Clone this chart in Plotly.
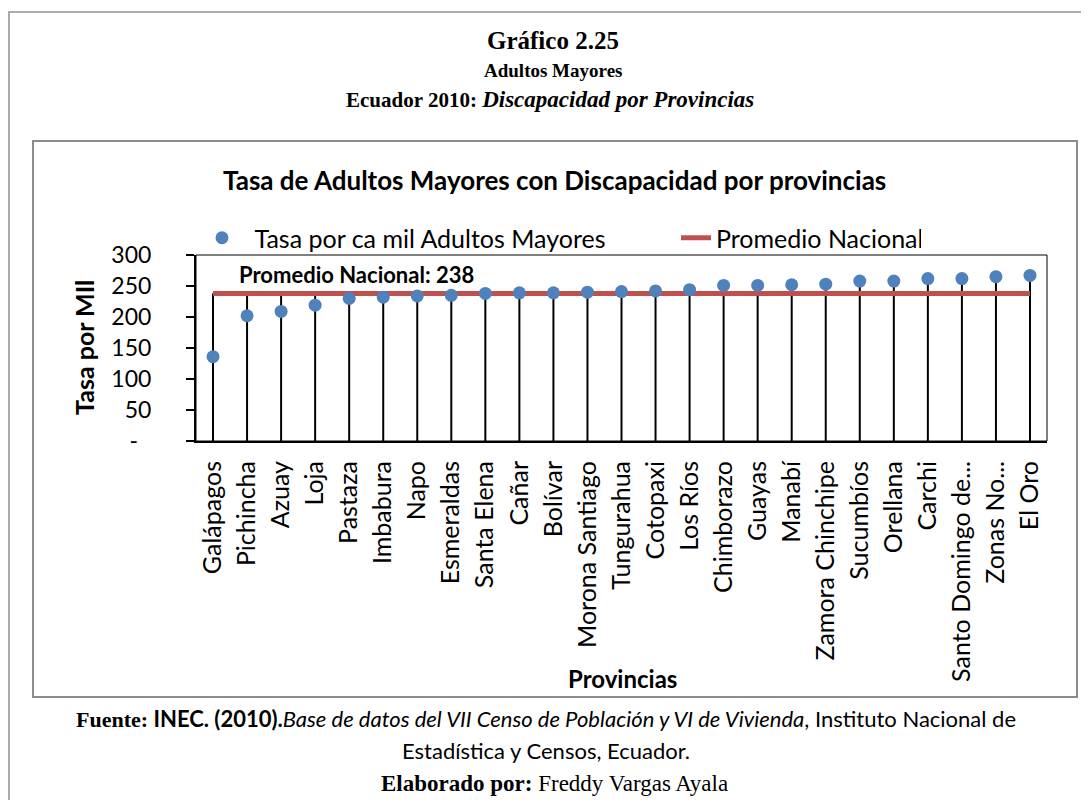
import plotly.graph_objects as go

# Datos: tasa por cada mil adultos mayores con discapacidad
provincias = ['Galápagos', 'Pichincha', 'Azuay', 'Loja', 'Pastaza', 'Imbabura',
              'Napo', 'Esmeraldas', 'Santa Elena', 'Cañar', 'Bolívar',
              'Morona Santiago', 'Tungurahua', 'Cotopaxi', 'Los Ríos',
              'Chimborazo', 'Guayas', 'Manabí', 'Zamora Chinchipe', 'Sucumbíos',
              'Orellana', 'Carchi', 'Santo Domingo de...', 'Zonas No...', 'El Oro']
tasa = [136, 202, 209, 219, 230, 232, 234, 235, 238, 239, 239, 240, 241, 242,
        244, 251, 251, 252, 253, 258, 258, 262, 262, 265, 267]
promedio = 238

y_ticks = [0, 50, 100, 150, 200, 250, 300]
y_labels = ['-\u2007', '50', '100', '150', '200', '250', '300']

# la pagina html tiene 8px de margen en el body
OFF = 8
W, H = 1089 - OFF, 800 - OFF
ML, MR, MT, MB = 188, 42, 247, 359
SANS = 'Lato'
SERIF = 'Liberation Serif'
AZUL = '#4F81BD'
ROJO = '#C0504D'


# pixeles de la ventana -> coordenadas paper (area de trazado)
def px(x):
    return (x - OFF - ML) / (W - ML - MR)


def py(y):
    return (H - MB - (y - OFF)) / (H - MT - MB)


# lineas verticales (drop lines) desde el eje hasta el valor mas alto
xs, ys = [], []
for p, v in zip(provincias, tasa):
    xs += [p, p, None]
    ys += [0, max(v, promedio), None]

fig = go.Figure()
fig.add_trace(go.Scatter(x=xs, y=ys, mode='lines', line=dict(color='black', width=2),
                         showlegend=False, hoverinfo='skip'))
fig.add_trace(go.Scatter(x=provincias, y=[promedio] * len(provincias), mode='lines',
                         name='Promedio Nacional', line=dict(color=ROJO, width=5),
                         legendrank=2, legendwidth=200))
fig.add_trace(go.Scatter(x=provincias, y=tasa, mode='markers',
                         name='\u2002Tasa por ca mil Adultos Mayores',
                         marker=dict(color=AZUL, size=13), legendrank=1, legendwidth=429))

anns = [
    dict(text='<b>Gráfico 2.25</b>', x=px(553), y=py(40), font=dict(family=SERIF, size=25)),
    dict(text='<b>Adultos Mayores</b>', x=px(553), y=py(70), font=dict(family=SERIF, size=19)),
    dict(text='<b>Ecuador 2010: </b><b><i><span style="font-size:23px">Discapacidad por Provincias</span></i></b>',
         x=px(550), y=py(99), font=dict(family=SERIF, size=21)),
    dict(text='<b>Tasa de Adultos Mayores con Discapacidad por provincias</b>',
         x=px(554), y=py(180), font=dict(family=SANS, size=26)),
    dict(text='<b>Promedio Nacional: 238</b>', x=px(237), y=py(274), xanchor='left',
         font=dict(family=SANS, size=22)),
    dict(text='<b>Tasa por MIl</b>', x=px(84), y=py(348), textangle=-90,
         font=dict(family=SANS, size=25)),
    dict(text='<b>Provincias</b>', x=px(622), y=py(678), font=dict(family=SANS, size=24)),
    dict(text='<b><span style="font-family:Liberation Serif">Fuente:</span> INEC. (2010).</b>'
              '<i>Base de datos del VII Censo de Población y VI de Vivienda</i>, '
              'Instituto Nacional de',
         x=px(546), y=py(718), font=dict(family=SANS, size=22)),
    dict(text='Estadística y Censos, Ecuador.', x=px(546), y=py(750),
         font=dict(family=SANS, size=22)),
    dict(text='<b>Elaborado por:</b> Freddy Vargas Ayala', x=px(554), y=py(783),
         font=dict(family=SERIF, size=23)),
]
for a in anns:
    a.setdefault('xanchor', 'center')
    a.update(xref='paper', yref='paper', yanchor='middle', showarrow=False)

shapes = [
    # marco exterior de la pagina
    dict(type='rect', xref='paper', yref='paper', x0=px(9), x1=px(1200), y0=py(900), y1=py(12),
         line=dict(color='#ABABAB', width=2), layer='below'),
    # marco del grafico
    dict(type='rect', xref='paper', yref='paper', x0=px(33), x1=px(1077), y0=py(697), y1=py(141),
         line=dict(color='#8C8C8C', width=2), layer='below'),
    # borde del area de trazado
    dict(type='rect', xref='x domain', yref='y domain', x0=0, x1=1, y0=0, y1=1,
         line=dict(color='black', width=1), layer='below'),
]

fig.update_layout(
    width=W, height=H,
    margin=dict(l=ML, r=MR, t=MT, b=MB, autoexpand=False),
    paper_bgcolor='white', plot_bgcolor='white',
    font=dict(family=SANS, size=20, color='black'),
    annotations=anns, shapes=shapes,
    legend=dict(orientation='h', x=px(202), y=py(238), xanchor='left', yanchor='middle',
                font=dict(family=SANS, size=25), bgcolor='rgba(0,0,0,0)'),
)
fig.update_xaxes(range=[-0.5, len(provincias) - 0.5], tickangle=-90, showgrid=False,
                 showline=True, linecolor='black', linewidth=2, ticks='',
                 tickfont=dict(family=SANS, size=25), ticklabelstandoff=8)
fig.update_yaxes(range=[0, 300], tickvals=y_ticks, ticktext=y_labels, showgrid=False,
                 showline=True, linecolor='black', linewidth=2, ticks='outside',
                 ticklen=8, tickwidth=2, tickcolor='black', zeroline=False,
                 tickfont=dict(family=SANS, size=23), ticklabelstandoff=30)

fig.write_html('out.html')
